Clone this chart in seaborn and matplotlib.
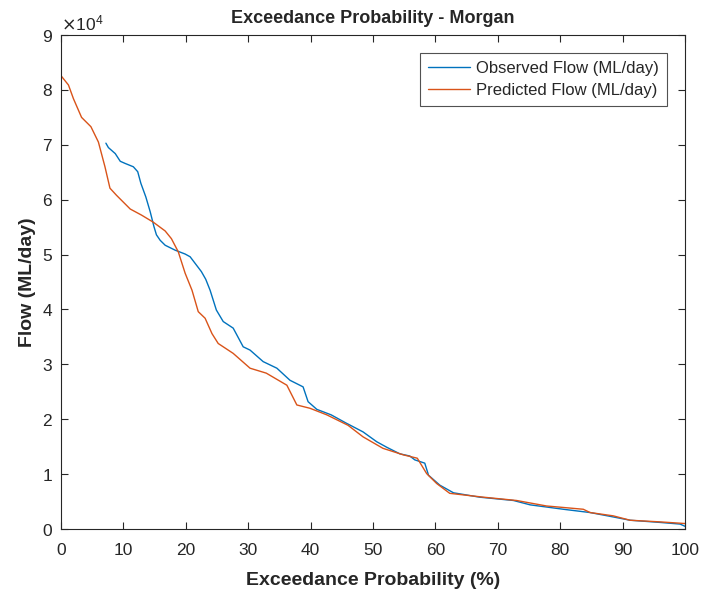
import numpy as np
import pandas as pd
import matplotlib
matplotlib.use('Agg')
from matplotlib import pyplot as plt
from matplotlib.ticker import ScalarFormatter
import seaborn as sns

# exceedance probability (%) and flow (ML/day)
obs_x = [7.2, 7.6, 8.7, 9.5, 10.3, 11.6, 12.3, 12.8, 13.6, 14.3, 14.9, 15.3, 15.9, 16.7,
         18.3, 19.9, 20.7, 21.5, 22.5, 23.2, 23.9, 24.9, 26.0, 27.6, 29.2, 30.3, 32.4,
         34.6, 36.7, 38.8, 39.6, 41.0, 43.3, 45.7, 48.4, 50.6, 52.2, 54.3, 55.9, 56.7,
         58.3, 58.9, 60.7, 62.9, 67.1, 72.5, 75.2, 80.5, 84.8, 88.5, 91.2, 96.0, 99.2, 100.0]
obs_y = [70300, 69500, 68400, 67000, 66600, 66000, 65100, 63000, 60500, 57800, 55100, 53600,
         52600, 51700, 50800, 50100, 49600, 48400, 46900, 45500, 43500, 39900, 37800, 36600,
         33200, 32600, 30500, 29300, 27100, 25900, 23200, 21800, 20800, 19300, 17700, 15900,
         14900, 13700, 13300, 12600, 12000, 9800, 8000, 6600, 5800, 5200, 4400, 3600, 3000,
         2200, 1600, 1200, 900, 500]

pred_x = [0.0, 1.2, 2.0, 3.3, 4.8, 6.0, 7.05, 7.85, 8.9, 11.1, 12.9, 14.8, 16.7, 17.7,
          18.8, 19.9, 21.0, 22.0, 23.1, 24.2, 25.2, 27.6, 30.3, 32.9, 36.2, 37.8, 39.9,
          42.6, 46.0, 48.4, 51.6, 54.9, 57.1, 58.6, 60.2, 62.3, 67.7, 73.0, 77.8, 83.7,
          84.8, 88.5, 91.2, 96.0, 100.0]
pred_y = [82600, 80900, 78400, 75000, 73300, 70500, 66000, 62100, 60800, 58300, 57200,
          55900, 54300, 52900, 50500, 46600, 43500, 39600, 38400, 35600, 33800, 32000,
          29300, 28400, 26200, 22600, 22000, 20800, 18900, 16800, 14700, 13500, 12900,
          10100, 8300, 6500, 5800, 5200, 4200, 3600, 3000, 2400, 1600, 1300, 1000]

blue = '#0072BD'
orange = '#D95319'
ink = '#262626'

sns.set_style('white')
plt.rcParams['font.family'] = ['Liberation Sans', 'DejaVu Sans']

fig = plt.figure(figsize=(7.04, 5.94), dpi=100)
ax = fig.add_axes([0.0866, 0.1094, 0.8864, 0.8316])

obs = pd.DataFrame({'p': obs_x, 'q': obs_y})
pred = pd.DataFrame({'p': pred_x, 'q': pred_y})
sns.lineplot(data=obs, x='p', y='q', ax=ax, color=blue, lw=1.0, sort=False,
             estimator=None, label='Observed Flow (ML/day)')
sns.lineplot(data=pred, x='p', y='q', ax=ax, color=orange, lw=1.0, sort=False,
             estimator=None, label='Predicted Flow (ML/day)')

ax.set_xlim(0, 100)
ax.set_ylim(0, 90000)
ax.set_xticks(np.arange(0, 101, 10))
ax.set_yticks(np.arange(0, 90001, 10000))
fmt = ScalarFormatter(useMathText=True)
fmt.set_powerlimits((0, 0))
ax.yaxis.set_major_formatter(fmt)
ax.yaxis.get_offset_text().set_fontsize(12.5)
ax.yaxis.get_offset_text().set_color(ink)

ax.tick_params(direction='in', length=5, width=0.8, labelsize=12.5, colors=ink,
               top=True, right=True, bottom=True, left=True)
ax.tick_params(axis='x', pad=10)
ax.tick_params(axis='y', pad=6)
for s in ax.spines.values():
    s.set_color(ink)
    s.set_linewidth(0.8)

ax.set_xlabel('Exceedance Probability (%)', fontsize=14, fontweight='bold', color=ink,
              labelpad=10)
ax.set_ylabel('Flow (ML/day)', fontsize=14, fontweight='bold', color=ink, labelpad=4)
ax.set_title('Exceedance Probability - Morgan', fontsize=13, fontweight='bold', pad=9)

leg = ax.legend(loc='upper right', bbox_to_anchor=(0.971, 0.964), borderaxespad=0,
                fontsize=12, frameon=True, fancybox=False, edgecolor=ink,
                handlelength=2.5, borderpad=0.5, labelspacing=0.4, handletextpad=0.35)
leg.get_frame().set_linewidth(0.8)

plt.savefig('out.png', dpi=100)
